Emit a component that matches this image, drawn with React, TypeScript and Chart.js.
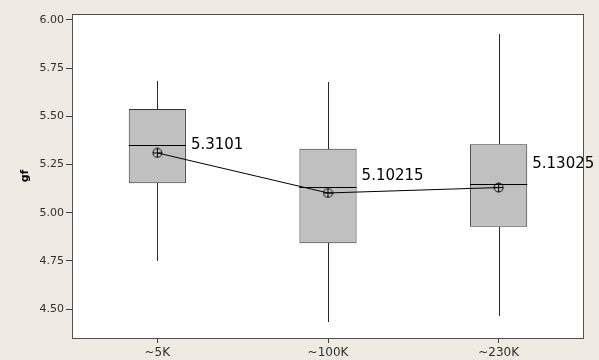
import React, { useEffect, useRef } from 'react';
import { Chart, registerables } from 'chart.js';

Chart.register(...registerables);

const categories = ['~5K', '~100K', '~230K'];
const whiskerLow = [4.75, 4.434, 4.464];
const q1 = [5.153, 4.841, 4.927];
const medians = [5.35, 5.132, 5.149];
const q3 = [5.538, 5.332, 5.355];
const whiskerHigh = [5.685, 5.68, 5.927];
const means = [5.3101, 5.10215, 5.13025];
const meanLabels = ['5.3101', '5.10215', '5.13025'];
const yTicks = [4.5, 4.75, 5.0, 5.25, 5.5, 5.75, 6.0];
const yMin = 4.3495;
const yMax = 6.031;

const labelDy = [-8, -17, -23];

function makeMarker(): HTMLCanvasElement {
  const c = document.createElement('canvas');
  c.width = 11;
  c.height = 11;
  const g = c.getContext('2d')!;
  g.strokeStyle = '#000';
  g.lineWidth = 1;
  g.beginPath();
  g.arc(5.5, 5.5, 4.5, 0, Math.PI * 2);
  g.stroke();
  g.beginPath();
  g.moveTo(5.5, 1);
  g.lineTo(5.5, 10);
  g.moveTo(1, 5.5);
  g.lineTo(10, 5.5);
  g.stroke();
  return c;
}

const boxPlugin = {
  id: 'boxExtras',
  beforeDraw(chart: any) {
    const { left, right, top, bottom } = chart.chartArea;
    const ctx = chart.ctx;
    ctx.save();
    ctx.fillStyle = '#ffffff';
    ctx.fillRect(left, top, right - left, bottom - top);
    ctx.restore();
  },
  afterDatasetDraw(chart: any, args: any) {
    if (args.index !== 0) return;
    const ctx = chart.ctx;
    const y = chart.scales.y;
    const meta = chart.getDatasetMeta(0);
    ctx.save();
    meta.data.forEach((bar: any, i: number) => {
      const x = Math.round(bar.x) + 0.5;
      const half = bar.width / 2;
      ctx.strokeStyle = '#2a2a2a';
      ctx.lineWidth = 1;
      ctx.beginPath();
      ctx.moveTo(x, Math.round(y.getPixelForValue(q3[i])));
      ctx.lineTo(x, Math.round(y.getPixelForValue(whiskerHigh[i])));
      ctx.moveTo(x, Math.round(y.getPixelForValue(q1[i])));
      ctx.lineTo(x, Math.round(y.getPixelForValue(whiskerLow[i])));
      ctx.stroke();
      ctx.strokeStyle = '#000';
      const my = Math.round(y.getPixelForValue(medians[i])) + 0.5;
      ctx.beginPath();
      ctx.moveTo(bar.x - half, my);
      ctx.lineTo(bar.x + half, my);
      ctx.stroke();
    });
    ctx.restore();
  },
  afterDatasetsDraw(chart: any) {
    const ctx = chart.ctx;
    const y = chart.scales.y;
    const meta = chart.getDatasetMeta(0);
    ctx.save();
    ctx.font = '15px "DejaVu Sans"';
    ctx.fillStyle = '#000';
    ctx.textAlign = 'left';
    ctx.textBaseline = 'middle';
    meta.data.forEach((bar: any, i: number) => {
      const x = bar.x + bar.width / 2 + 5;
      const py = y.getPixelForValue(means[i]) + labelDy[i];
      ctx.fillText(meanLabels[i], x, py);
    });
    ctx.restore();
  },
  afterDraw(chart: any) {
    const { left, right, top, bottom } = chart.chartArea;
    const ctx = chart.ctx;
    ctx.save();
    ctx.strokeStyle = '#505050';
    ctx.lineWidth = 1;
    ctx.strokeRect(Math.round(left) + 0.5, Math.round(top) + 0.5, Math.round(right - left) - 1, Math.round(bottom - top));
    ctx.restore();
  },
};

export default function App() {
  const ref = useRef<HTMLCanvasElement | null>(null);
  useEffect(() => {
    document.body.style.margin = '0';
    const canvas = ref.current!;
    const marker = makeMarker();
    const chart = new Chart(canvas, {
      type: 'bar',
      data: {
        labels: categories,
        datasets: [
          {
            type: 'bar',
            data: q1.map((v, i) => [v, q3[i]]) as any,
            backgroundColor: '#c0c0c0',
            borderColor: '#333333',
            borderWidth: 1,
            borderSkipped: false,
            barPercentage: 1,
            categoryPercentage: 0.335,
            order: 2,
          } as any,
          {
            type: 'line',
            data: means,
            borderColor: '#000',
            borderWidth: 1,
            pointStyle: marker as any,
            pointRadius: 5,
            fill: false,
            tension: 0,
            order: 1,
          } as any,
        ],
      },
      options: {
        responsive: false,
        animation: false,
        devicePixelRatio: 1,
        layout: { padding: { top: 14, right: 15, left: 0, bottom: 0 } },
        plugins: { legend: { display: false }, tooltip: { enabled: false } },
        scales: {
          x: {
            offset: true,
            grid: { display: true, drawOnChartArea: false, drawTicks: true, tickLength: 5, color: '#404040', offset: false },
            border: { display: false },
            ticks: { font: { family: 'DejaVu Sans', size: 12 }, color: '#303030', padding: 3 },
            afterFit: (s: any) => { s.height = 22; },
          },
          y: {
            min: yMin,
            max: yMax,
            grid: { display: true, drawOnChartArea: false, drawTicks: true, tickLength: 6, color: '#404040' },
            border: { display: false },
            afterBuildTicks: (s: any) => { s.ticks = yTicks.map((v) => ({ value: v })); },
            ticks: {
              font: { family: 'DejaVu Sans', size: 11 },
              color: '#303030',
              padding: 2,
              callback: (v: any) => Number(v).toFixed(2),
            },
            title: {
              display: true,
              text: 'gf',
              font: { family: 'DejaVu Sans', size: 11, weight: 'bold' },
              color: '#000',
              padding: { top: 19, bottom: 0 },
            },
            afterFit: (s: any) => { s.width = 72; },
          },
        },
      },
      plugins: [boxPlugin],
    });
    return () => chart.destroy();
  }, []);
  return (
    <div style={{ width: 599, height: 360, background: '#efebe2' }}>
      <canvas ref={ref} width={599} height={360} style={{ display: 'block' }} />
    </div>
  );
}
